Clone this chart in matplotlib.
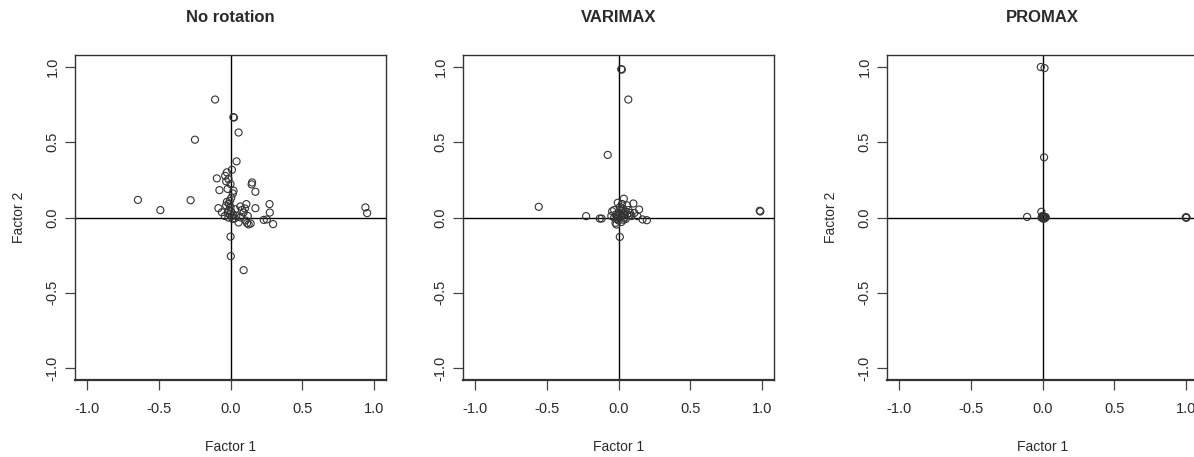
import matplotlib
matplotlib.use('Agg')
import matplotlib.pyplot as plt

plt.rcParams['font.family'] = ['Liberation Sans', 'DejaVu Sans']

# factor loadings, unrotated
none_f1 = [-0.107, 0.020, 0.024, 0.056, -0.247, 0.042, 0.010, -0.025, -0.037, -0.095,
           -0.014, -0.030, 0.000, -0.077, -0.020, 0.021, 0.150, 0.147, 0.173, 0.016,
           -0.643, -0.487, -0.277, -0.025, -0.030, -0.084, 0.033, 0.068, 0.110, 0.091,
           0.173, 0.271, 0.273, 0.056, 0.115, 0.126, 0.105, 0.231, 0.252, 0.296,
           0.000, 0.002, 0.091, 0.937, 0.949, -0.010, 0.005, -0.005, 0.010, -0.015,
           0.000, -0.020, 0.015, 0.020, -0.040, 0.040, 0.070, 0.080, -0.005, 0.005,
           -0.010, 0.030, -0.060, 0.120, 0.100, 0.140]
none_f2 = [0.784, 0.667, 0.664, 0.565, 0.517, 0.373, 0.317, 0.300, 0.277, 0.260,
           0.255, 0.240, 0.222, 0.182, 0.190, 0.178, 0.233, 0.220, 0.171, 0.160,
           0.117, 0.049, 0.115, 0.104, 0.080, 0.062, 0.055, 0.073, 0.089, 0.033,
           0.062, 0.089, 0.033, -0.033, -0.038, -0.046, -0.020, -0.016, -0.013, -0.044,
           -0.127, -0.257, -0.350, 0.067, 0.029, 0.050, 0.040, 0.020, 0.010, 0.000,
           0.070, 0.030, -0.010, 0.020, 0.010, 0.010, 0.000, 0.050, 0.110, 0.130,
           0.090, -0.005, 0.035, 0.010, 0.060, -0.040]

# varimax
vari_f1 = [0.019, 0.023, 0.068, -0.075, -0.554, -0.225, -0.130, -0.117, 0.009, 0.981,
           0.985, 0.037, -0.005, 0.103, 0.143, 0.131, 0.167, 0.197, -0.044, -0.021,
           -0.014, 0.000, 0.010, 0.020, -0.010, 0.030, 0.040, 0.050, 0.060, 0.070,
           0.080, 0.030, 0.010, -0.020, -0.030, 0.000, 0.020, 0.050, 0.090, 0.060,
           0.020, -0.010, 0.040, -0.050, 0.015, 0.035, 0.075, 0.000, -0.030, 0.110,
           0.025]
vari_f2 = [0.986, 0.983, 0.784, 0.416, 0.071, 0.009, -0.007, -0.007, -0.129, 0.045,
           0.040, 0.125, 0.098, 0.093, 0.053, 0.009, -0.013, -0.018, 0.042, -0.036,
           -0.047, 0.000, 0.020, 0.010, 0.010, 0.030, 0.000, 0.040, 0.020, 0.050,
           0.030, 0.060, 0.070, 0.020, 0.000, -0.020, -0.030, -0.010, 0.010, 0.080,
           0.040, -0.010, 0.020, 0.010, 0.050, -0.015, 0.015, 0.030, 0.050, 0.030,
           0.090]

# promax
pro_f1 = [-0.012, 0.014, 0.011, -0.107, 0.995, 0.998, 1.000, -0.008, 0.000, 0.005,
          0.010, 0.015, -0.004, 0.008, 0.020, 0.012, 0.003, 0.018, -0.006, 0.000,
          0.006, 0.014, 0.022]
pro_f2 = [1.000, 0.993, 0.400, 0.004, 0.000, 0.002, -0.001, 0.038, 0.000, 0.002,
          -0.003, 0.000, 0.005, 0.006, -0.002, 0.003, -0.005, 0.004, -0.002, 0.010,
          -0.008, -0.006, 0.002]

titles = ['No rotation', 'VARIMAX', 'PROMAX']
ticks = [-1.0, -0.5, 0.0, 0.5, 1.0]
tick_labels = ['-1.0', '-0.5', '0.0', '0.5', '1.0']

W, H = 1194, 457
fig = plt.figure(figsize=(W / 100, H / 100), dpi=100)
lefts = [75, 463, 887]
panels = [(none_f1, none_f2), (vari_f1, vari_f2), (pro_f1, pro_f2)]
ink = '#2a2a2a'

for i, (x, y) in enumerate(panels):
    ax = fig.add_axes([lefts[i] / W, 1 - 380 / H, 311 / W, 325 / H])
    ax.axhline(0, color='black', lw=1.0, zorder=1)
    ax.axvline(0, color='black', lw=1.0, zorder=1)
    ax.scatter(x, y, s=26, facecolors='none', edgecolors='#333333',
               linewidths=0.8, zorder=2)
    ax.set_xlim(-1.08, 1.08)
    ax.set_ylim(-1.08, 1.08)
    ax.set_xticks(ticks)
    ax.set_xticklabels(tick_labels)
    ax.set_yticks(ticks)
    ax.set_yticklabels(tick_labels, rotation=90, va='center')
    ax.tick_params(length=7, width=0.9, color='#444444', labelcolor=ink,
                   labelsize=10.5)
    ax.tick_params(axis='x', pad=9)
    ax.tick_params(axis='y', pad=4)
    for sp in ax.spines.values():
        sp.set_color('#333333')
        sp.set_linewidth(1.0)
    ax.spines['bottom'].set_linewidth(1.6)
    ax.set_title(titles[i], fontsize=12, fontweight='bold', color=ink, pad=24)
    ax.set_xlabel('Factor 1', fontsize=10, color=ink, labelpad=17)
    if i != 1:
        ax.set_ylabel('Factor 2', fontsize=10, color=ink, labelpad=14)

fig.savefig('out.png', dpi=100)
